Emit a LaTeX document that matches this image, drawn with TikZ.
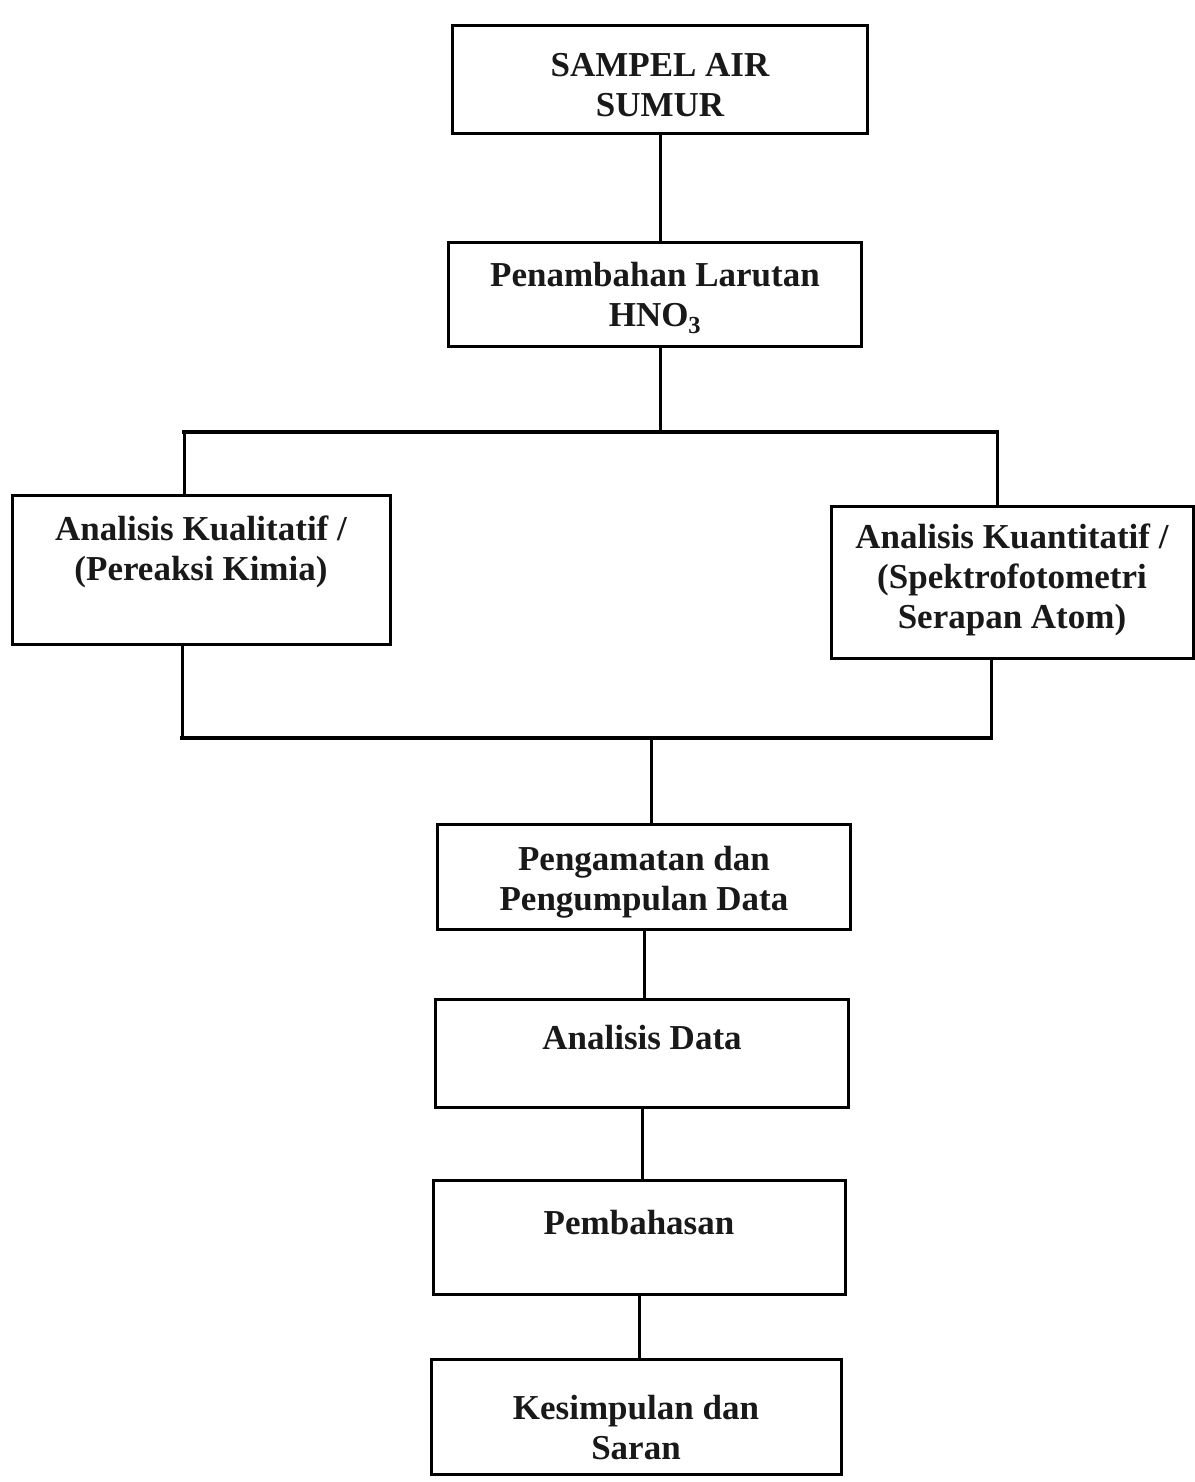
\documentclass[tikz,border=0pt]{standalone}
\usepackage{fontspec}
\setmainfont{Liberation Serif}
\begin{document}
\begin{tikzpicture}[x=1pt,y=-1pt,
  box/.style={draw=black, line width=3pt, rectangle, inner sep=0pt},
  txt/.style={align=center, font=\bfseries\fontsize{35}{40}\selectfont, inner sep=0pt, text=black!90},
  conn/.style={line width=3pt},
  bar/.style={line width=4pt, line cap=rect}]
\useasboundingbox (0,0) rectangle (1194,1482);
% boxes
\node[box, minimum width=415pt, minimum height=108pt] (b1) at (660,80) {};
\node[txt] (t1) at (660,85) {SAMPEL AIR\\SUMUR};
\node[box, minimum width=413pt, minimum height=104pt] (b2) at (655,294) {};
\node[txt] (t2) at (655,298) {Penambahan Larutan\\HNO\textsubscript{3}};
\node[box, minimum width=378pt, minimum height=149pt] (b3) at (201,570) {};
\node[txt] (t3) at (201,552) {Analisis Kualitatif /\\(Pereaksi Kimia)};
\node[box, minimum width=362pt, minimum height=152pt] (b4) at (1012,582) {};
\node[txt] (t4) at (1012,580) {Analisis Kuantitatif /\\(Spektrofotometri\\Serapan Atom)};
\node[box, minimum width=413pt, minimum height=105pt] (b5) at (644,877) {};
\node[txt] (t5) at (644,882) {Pengamatan dan\\Pengumpulan Data};
\node[box, minimum width=413pt, minimum height=108pt] (b6) at (642,1053) {};
\node[txt] (t6) at (642,1038) {Analisis Data};
\node[box, minimum width=412pt, minimum height=114pt] (b7) at (639,1237) {};
\node[txt] (t7) at (639,1223) {Pembahasan};
\node[box, minimum width=410pt, minimum height=115pt] (b8) at (636,1417) {};
\node[txt] (t8) at (636,1428) {Kesimpulan dan\\Saran};
% coordinates for bars
\coordinate (uL) at (184,432);
\coordinate (uR) at (997,432);
\coordinate (uM) at (660,432);
\coordinate (lL) at (182,738);
\coordinate (lR) at (991,738);
\coordinate (lM) at (651,738);
% connectors
\draw[conn] (b1.south -| uM) -- (b2.north -| uM);
\draw[conn] (b2.south -| uM) -- (uM);
\draw[bar] (uL) -- (uR);
\draw[conn] (uL) -- (uL |- b3.north);
\draw[conn] (uR) -- (uR |- b4.north);
\draw[conn] (lL |- b3.south) -- (lL);
\draw[conn] (lR |- b4.south) -- (lR);
\draw[bar] (lL) -- (lR);
\draw[conn] (lM) -- (lM |- b5.north);
\draw[conn] (b5.south) -- (b5.south |- b6.north);
\draw[conn] (b6.south) -- (b6.south |- b7.north);
\draw[conn] (b7.south) -- (b7.south |- b8.north);
\end{tikzpicture}
\end{document}
